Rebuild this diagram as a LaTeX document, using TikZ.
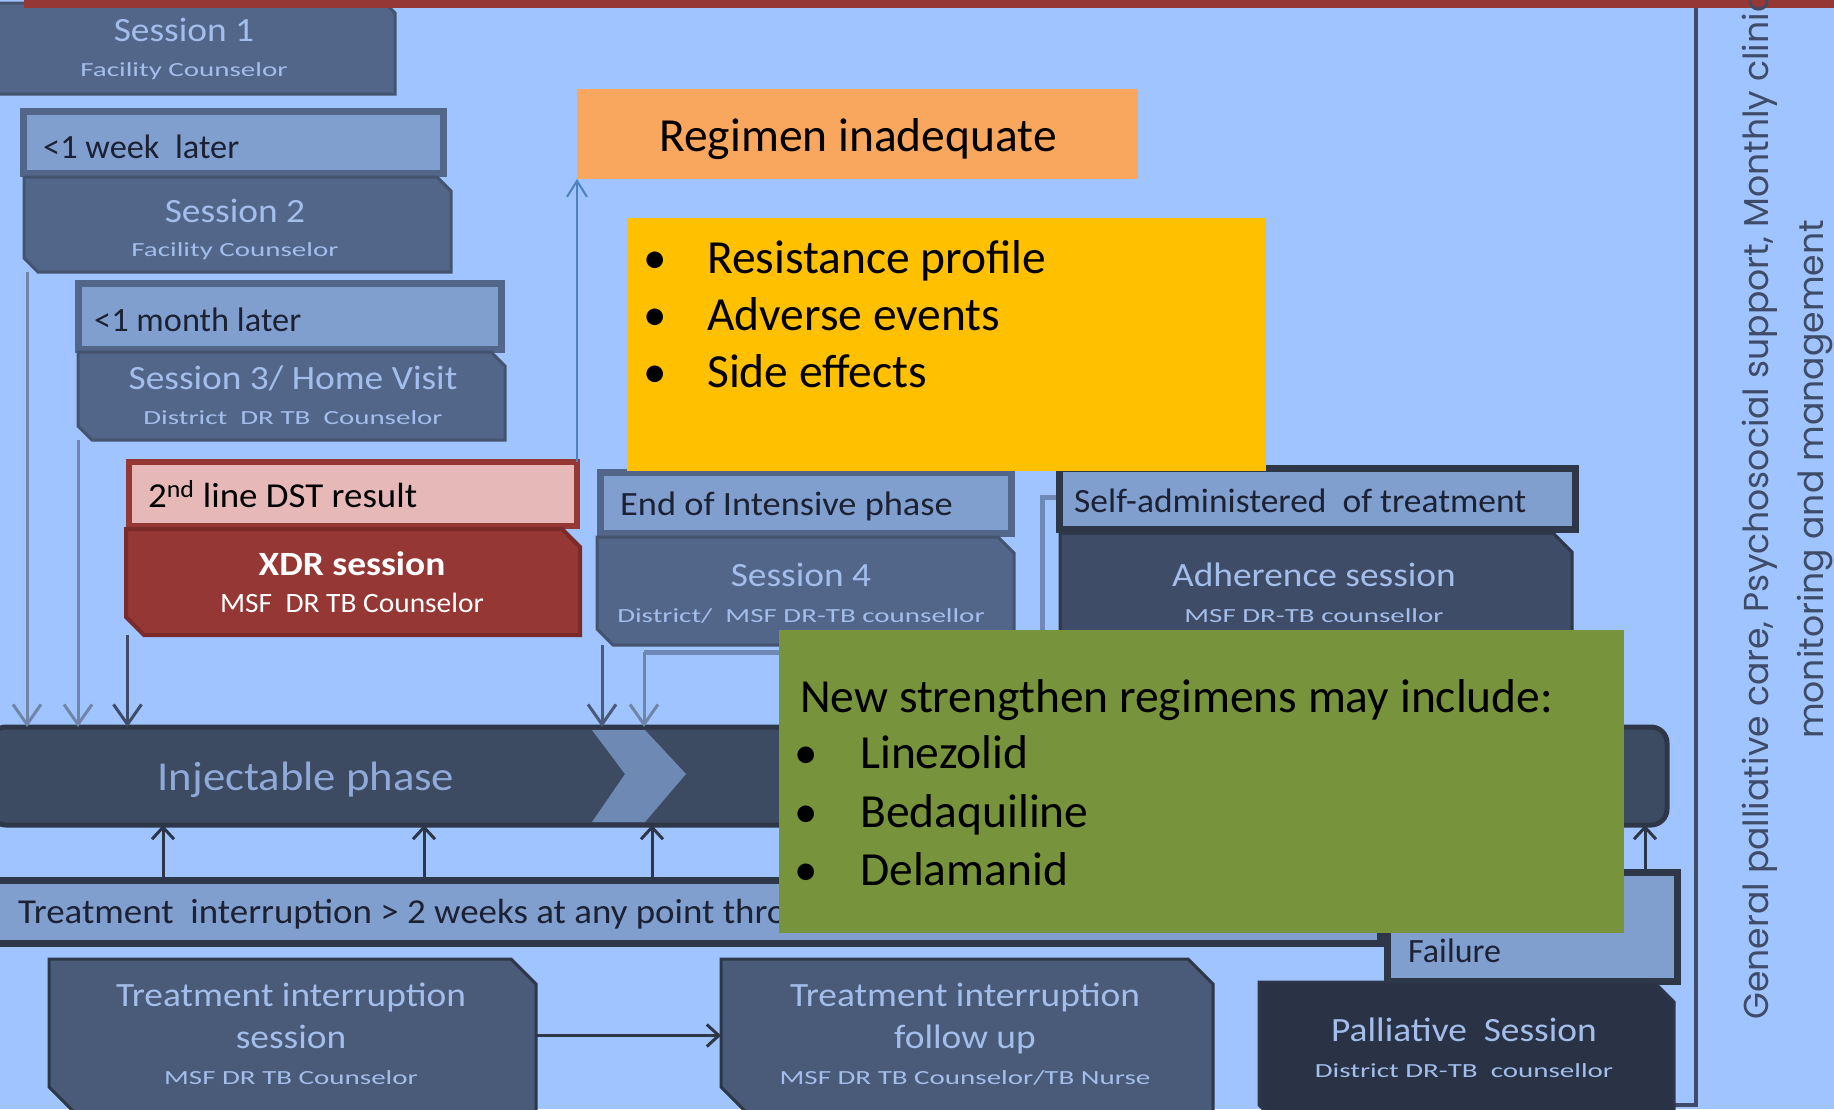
\documentclass[tikz,border=0pt]{standalone}
\usepackage{fontspec}
\setmainfont{Carlito}
\newfontfamily\geo{Poppins}
\usepackage{graphicx}
\usetikzlibrary{arrows.meta}
\definecolor{bgc}{HTML}{A0C4FF}
\definecolor{redc}{HTML}{953735}
\definecolor{redd}{HTML}{7A2B29}
\definecolor{sessc}{HTML}{52668A}
\definecolor{sessd}{HTML}{44546F}
\definecolor{lightc}{HTML}{809FCF}
\definecolor{txtl}{HTML}{A3BEEB}
\definecolor{darkc}{HTML}{2E3748}
\definecolor{barc}{HTML}{3C4A62}
\definecolor{adhc}{HTML}{3F4C67}
\definecolor{palc}{HTML}{2A3346}
\definecolor{tic}{HTML}{4A5A79}
\definecolor{chevc}{HTML}{6E89B3}
\definecolor{pinkc}{HTML}{E6B8B7}
\definecolor{orc}{HTML}{F9A65E}
\definecolor{yelc}{HTML}{FFC000}
\definecolor{grnc}{HTML}{77933C}
\definecolor{linec}{HTML}{6F86A8}
\definecolor{bluec}{HTML}{4F81BD}
\definecolor{inkc}{HTML}{1C2233}
\definecolor{injt}{HTML}{8FAAD8}
\newcommand\sx[2]{\scalebox{#1}[1]{#2}}
% name, style, x1, y1, x2, y2, cut
\newcommand\snipbox[7]{%
  \path[#2] (#3,#4) -- ({#5-#7},#4) -- (#5,{#4+#7}) -- (#5,#6) -- ({#3+#7},#6) -- (#3,{#6-#7}) -- cycle;
  \node[boxnode,minimum width={#5-#3},minimum height={#6-#4}] (#1) at ({(#3+#5)/2},{(#4+#6)/2}) {};}
% name, style, x1, y1, x2, y2
\newcommand\recbox[6]{%
  \path[#2] (#3,#4) rectangle (#5,#6);
  \node[boxnode,minimum width={#5-#3},minimum height={#6-#4}] (#1) at ({(#3+#5)/2},{(#4+#6)/2}) {};}
\begin{document}
\begin{tikzpicture}[x=1pt,y=-1pt,
  boxnode/.style={inner sep=0pt,outer sep=0pt},
  sessbox/.style={fill=sessc,draw=sessd,line width=3pt},
  lightbox/.style={fill=lightc,draw=sessc,line width=7pt},
  lightdk/.style={fill=lightc,draw=darkc,line width=7pt},
  adhbox/.style={fill=adhc,draw=darkc,line width=3pt},
  palbox/.style={fill=palc,draw=darkc,line width=3pt},
  tibox/.style={fill=tic,draw=darkc,line width=3pt},
  xdrbox/.style={fill=redc,draw=redd,line width=4pt},
  dstbox/.style={fill=pinkc,draw=redc,line width=6pt},
  barbox/.style={fill=barc,draw=darkc,line width=5pt,rounded corners=16pt},
  orbox/.style={fill=orc},
  yelbox/.style={fill=yelc},
  grnbox/.style={fill=grnc},
  ttl/.style={inner sep=0pt,anchor=base,text=txtl,font=\fontsize{34}{40}\selectfont},
  sub/.style={inner sep=0pt,anchor=base,text=txtl,font=\fontsize{20}{24}\selectfont},
  lbl/.style={inner sep=0pt,anchor=base west,text=inkc,font=\fontsize{34}{40}\selectfont},
  big/.style={inner sep=0pt,anchor=base west,text=black,font=\fontsize{47.5}{56}\selectfont},
  bul/.style={inner sep=0pt,anchor=base,text=black,font=\fontsize{47}{56}\selectfont},
  vtxt/.style={inner sep=0pt,anchor=base west,rotate=90,text=adhc,font=\geo\fontsize{34.6}{40}\selectfont},
  darr/.style={draw=linec,line width=3pt,-{Straight Barb[length=20pt,width=28pt]}},
  uarr/.style={draw=darkc,line width=3pt,-{Straight Barb[length=12pt,width=22pt]}},
  barr/.style={draw=bluec,line width=2pt,-{Straight Barb[length=16pt,width=20pt]}},
  strip/.style={draw=chevc,line width=5pt}]
\useasboundingbox (0,0) rectangle (1834,1109);
\clip (0,0) rectangle (1834,1109);
\fill[bgc] (0,0) rectangle (1834,1109);
% right frame line
\draw[draw=adhc,line width=4pt] (1560,1105) -- (1696,1105) -- (1696,0);
% session 1
\snipbox{s1}{sessbox}{-10}{3}{395}{94}{10}
\node[ttl] (s1t) at (184,41) {\sx{1.1}{Session 1}};
\node[sub] (s1s) at (184,76) {\sx{1.45}{Facility Counselor}};
\fill[redc] (24,0) rectangle (1834,8);
% week
\recbox{wk}{lightbox}{23.5}{111.5}{443.5}{173.5}
\node[lbl] (wkt) at (43,158) {\sx{1.01}{<1 week\ \ later}};
\snipbox{s2}{sessbox}{24}{177}{451}{272}{14}
\node[ttl] (s2t) at (235,222) {\sx{1.1}{Session 2}};
\node[sub] (s2s) at (235,256) {\sx{1.45}{Facility Counselor}};
% month
\recbox{mo}{lightbox}{78.5}{283.5}{501.5}{349.5}
\node[lbl] (mot) at (94,331) {\sx{1.01}{<1 month later}};
\snipbox{s3}{sessbox}{78}{352}{505}{440}{14}
\node[ttl] (s3t) at (293,389) {\sx{1.1}{Session 3/ Home Visit}};
\node[sub] (s3s) at (293,424) {\sx{1.45}{District\ \ DR TB\ \ Counselor}};
% injectable bar
\path[barbox] (-10,727) -- (1667,727) -- (1667,825) -- (-10,825) -- cycle;
\node[boxnode,minimum width=1677,minimum height=98] (inj) at (828.5,776) {};
\fill[chevc] (592,730) -- (645,730) -- (686,774) -- (645,822) -- (592,822) -- (625,774) -- cycle;
\node[ttl,text=injt,font=\fontsize{41}{46}\selectfont] (injt) at (306,790) {\sx{1.09}{Injectable phase}};
% DST / XDR
\recbox{dst}{dstbox}{129}{462}{577}{526}
\node[lbl,text=black,font=\fontsize{35}{40}\selectfont] (dstt) at (148,507) {\sx{1.055}{2\textsuperscript{nd} line DST result}};
\snipbox{xdr}{xdrbox}{126}{529}{580}{635}{18}
\node[ttl,text=white,font=\bfseries\fontsize{34}{40}\selectfont] (xdrt) at (352,575) {\sx{1.1}{XDR session}};
\node[ttl,text=white,font=\fontsize{28}{32}\selectfont] (xdrs) at (352,612) {\sx{1.05}{MSF\ \ DR TB Counselor}};
% end of intensive / session 4
\recbox{eip}{lightbox}{600.5}{472.5}{1011.5}{533.5}
\node[lbl] (eipt) at (620,515) {\sx{1.07}{End of Intensive phase}};
\snipbox{s4}{sessbox}{597}{537}{1014}{645}{16}
\node[ttl] (s4t) at (801,586) {\sx{1.1}{Session 4}};
\node[sub] (s4s) at (801,622) {\sx{1.45}{District/\ \ MSF DR-TB counsellor}};
% self-administered / adherence
\coordinate (sal) at (1042,497);
\draw[strip] (1056,497) -- (sal) -- (1042,720);
\snipbox{adh}{adhbox}{1060}{533}{1572}{700}{19}
\recbox{sa}{lightdk}{1059.5}{468.5}{1575.5}{529.5}
\node[lbl] (sat) at (1074,512) {\sx{1.043}{Self-administered\ \ of treatment}};
\node[ttl] (adht) at (1314,586) {\sx{1.1}{Adherence session}};
\node[sub] (adhs) at (1314,622) {\sx{1.45}{MSF DR-TB counsellor}};
% down arrows into injectable phase
\draw[darr] ([xshift=3pt]s2.south west) -- ([xshift=3pt]s2.south west |- inj.north);
\draw[darr] (s3.south west) -- (s3.south west |- inj.north);
\draw[darr,draw=adhc] ([xshift=1.5pt]xdr.south west) -- ([xshift=1.5pt]xdr.south west |- inj.north);
\draw[darr,draw=tic] ([xshift=5pt]s4.south west) -- ([xshift=5pt]s4.south west |- inj.north);
\coordinate (s4u) at (644,652);
\draw[strip] (s4u) -- ++(150,0);
\draw[darr] (s4u) -- (s4u |- inj.north);
% treatment interruption bar, failure, palliative
\recbox{tib}{lightdk}{-10}{880.5}{1380.5}{943.5}
\node[lbl,font=\fontsize{35}{40}\selectfont] (tibt) at (18,923) {\sx{1.055}{Treatment\ \ interruption > 2 weeks at any point throughout treatment}};
\recbox{fl}{lightdk}{1387.5}{872.5}{1677.5}{981.5}
\node[lbl] (flt) at (1408,962) {Failure};
\snipbox{pal}{palbox}{1259}{982}{1674}{1125}{20}
\node[ttl] (palt) at (1464,1041) {\sx{1.1}{Palliative\ \ Session}};
\node[sub] (pals) at (1464,1077) {\sx{1.45}{District DR-TB\ \ counsellor}};
\coordinate (u1) at (163,877);
\coordinate (u2) at (424,877);
\coordinate (u3) at (652,877);
\coordinate (u4) at (1645,869);
\draw[uarr] (u1) -- (u1 |- inj.south);
\draw[uarr] (u2) -- (u2 |- inj.south);
\draw[uarr] (u3) -- (u3 |- inj.south);
\draw[uarr] (u4) -- (u4 |- inj.south);
% regimen inadequate
\recbox{reg}{orbox}{577}{89}{1138}{179}
\node[big,anchor=base] (regt) at (858,151) {Regimen inadequate};
\draw[barr] (dst.north east) -- (dst.north east |- reg.south);
% yellow
\recbox{yel}{yelbox}{627}{218}{1266}{471}
\node[bul] (yb1) at (655,273) {•};
\node[bul] (yb2) at (655,330) {•};
\node[bul] (yb3) at (655,387) {•};
\node[big] (y1) at (707,273) {Resistance profile};
\node[big] (y2) at (707,330) {Adverse events};
\node[big] (y3) at (707,387) {Side effects};
% green
\recbox{grn}{grnbox}{779}{630}{1624}{933}
\node[big] (g0) at (800,712) {New strengthen regimens may include:};
\node[bul] (gb1) at (806,768) {•};
\node[bul] (gb2) at (806,827) {•};
\node[bul] (gb3) at (806,885) {•};
\node[big] (g1) at (860,768) {Linezolid};
\node[big] (g2) at (860,827) {Bedaquiline};
\node[big] (g3) at (860,885) {Delamanid};
% treatment interruption boxes
\snipbox{tis}{tibox}{49}{959}{536}{1112}{25}
\node[ttl] (tist) at (291,1006) {\sx{1.1}{Treatment interruption}};
\node[ttl] (tist2) at (291,1048) {\sx{1.1}{session}};
\node[sub] (tiss) at (291,1084) {\sx{1.45}{MSF DR TB Counselor}};
\snipbox{tif}{tibox}{721}{959}{1213}{1112}{25}
\node[ttl] (tift) at (965,1006) {\sx{1.1}{Treatment interruption}};
\node[ttl] (tift2) at (965,1048) {\sx{1.1}{follow up}};
\node[sub] (tifs) at (965,1084) {\sx{1.45}{MSF DR TB Counselor/TB Nurse}};
\draw[uarr] (tis.east) -- (tif.west);
% vertical text
\node[vtxt] (v1) at (1768,1020) {General palliative care, Psychosocial support, Monthly clinical};
\node[vtxt] (v2) at (1823,739) {monitoring and management};
\end{tikzpicture}
\end{document}
